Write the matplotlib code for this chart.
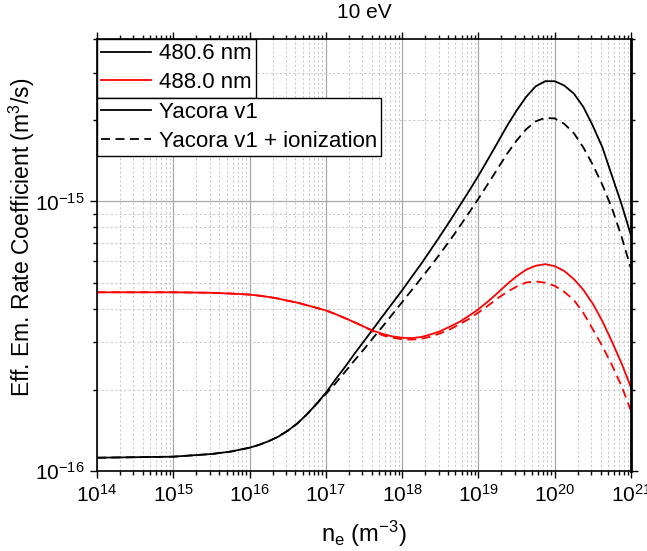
import matplotlib
matplotlib.use("Agg")
import matplotlib.pyplot as plt

plt.rcParams['font.family'] = ['Liberation Sans', 'DejaVu Sans']
plt.rcParams['mathtext.fontset'] = 'custom'
plt.rcParams['mathtext.rm'] = 'Liberation Sans'
plt.rcParams['mathtext.it'] = 'Liberation Sans:italic'
plt.rcParams['mathtext.bf'] = 'Liberation Sans:bold'

# electron density (m^-3)
ne = [1.0e14, 3.16e14, 1.0e15, 3.16e15, 5.62e15,
      1.0e16, 1.33e16, 1.78e16, 2.37e16, 3.16e16, 4.22e16, 5.62e16, 7.5e16,
      1.0e17, 1.33e17, 1.78e17, 2.37e17, 3.16e17, 4.22e17, 5.62e17, 7.5e17,
      1.0e18, 1.33e18, 1.78e18, 2.37e18, 3.16e18, 4.22e18, 5.62e18, 7.5e18,
      1.0e19, 1.33e19, 1.78e19, 2.37e19, 3.16e19, 4.22e19, 5.62e19, 7.5e19,
      1.0e20, 1.33e20, 1.78e20, 2.37e20, 3.16e20, 4.22e20, 5.62e20, 7.5e20,
      1.0e21]

# 480.6 nm, Yacora v1 (m^3/s)
k480 = [1.12e-16, 1.125e-16, 1.13e-16, 1.156e-16, 1.18e-16,
        1.22e-16, 1.25e-16, 1.29e-16, 1.34e-16, 1.41e-16, 1.50e-16, 1.62e-16, 1.77e-16,
        1.95e-16, 2.18e-16, 2.43e-16, 2.72e-16, 3.03e-16, 3.38e-16, 3.77e-16, 4.20e-16,
        4.68e-16, 5.24e-16, 5.87e-16, 6.61e-16, 7.46e-16, 8.45e-16, 9.59e-16, 1.09e-15,
        1.245e-15, 1.43e-15, 1.65e-15, 1.905e-15, 2.17e-15, 2.44e-15, 2.67e-15, 2.79e-15,
        2.79e-15, 2.69e-15, 2.51e-15, 2.24e-15, 1.905e-15, 1.585e-15, 1.245e-15, 9.77e-16,
        7.48e-16]
# 480.6 nm, Yacora v1 + ionization
k480_ion = [1.12e-16, 1.125e-16, 1.13e-16, 1.156e-16, 1.18e-16,
            1.22e-16, 1.25e-16, 1.29e-16, 1.34e-16, 1.41e-16, 1.50e-16, 1.62e-16, 1.77e-16,
            1.93e-16, 2.11e-16, 2.33e-16, 2.57e-16, 2.83e-16, 3.13e-16, 3.45e-16, 3.82e-16,
            4.23e-16, 4.68e-16, 5.19e-16, 5.75e-16, 6.41e-16, 7.16e-16, 8.04e-16, 9.06e-16,
            1.023e-15, 1.16e-15, 1.32e-15, 1.50e-15, 1.68e-15, 1.85e-15, 1.98e-15, 2.04e-15,
            2.03e-15, 1.94e-15, 1.79e-15, 1.585e-15, 1.365e-15, 1.15e-15, 9.44e-16, 7.41e-16,
            5.62e-16]
# 488.0 nm, Yacora v1
k488 = [4.60e-16, 4.60e-16, 4.60e-16, 4.58e-16, 4.55e-16,
        4.51e-16, 4.47e-16, 4.42e-16, 4.36e-16, 4.28e-16, 4.21e-16, 4.12e-16, 4.03e-16,
        3.94e-16, 3.82e-16, 3.69e-16, 3.56e-16, 3.43e-16, 3.31e-16, 3.22e-16, 3.155e-16,
        3.12e-16, 3.11e-16, 3.14e-16, 3.21e-16, 3.30e-16, 3.43e-16, 3.57e-16, 3.76e-16,
        3.98e-16, 4.25e-16, 4.57e-16, 4.93e-16, 5.27e-16, 5.58e-16, 5.77e-16, 5.85e-16,
        5.75e-16, 5.52e-16, 5.15e-16, 4.70e-16, 4.17e-16, 3.59e-16, 3.02e-16, 2.51e-16,
        2.04e-16]
# 488.0 nm, Yacora v1 + ionization
k488_ion = [4.60e-16, 4.60e-16, 4.60e-16, 4.58e-16, 4.55e-16,
            4.51e-16, 4.47e-16, 4.42e-16, 4.36e-16, 4.28e-16, 4.21e-16, 4.12e-16, 4.03e-16,
            3.94e-16, 3.82e-16, 3.69e-16, 3.56e-16, 3.43e-16, 3.29e-16, 3.18e-16, 3.12e-16,
            3.08e-16, 3.07e-16, 3.09e-16, 3.15e-16, 3.24e-16, 3.35e-16, 3.50e-16, 3.66e-16,
            3.87e-16, 4.10e-16, 4.37e-16, 4.61e-16, 4.83e-16, 5.00e-16, 5.05e-16, 4.99e-16,
            4.86e-16, 4.62e-16, 4.31e-16, 3.86e-16, 3.35e-16, 2.90e-16, 2.47e-16, 2.07e-16,
            1.67e-16]

fig = plt.figure(figsize=(6.47, 5.51), dpi=100)
ax = fig.add_subplot(111)
fig.subplots_adjust(left=0.1499, right=0.9753, bottom=0.1452, top=0.9292)

dash = (0, (5, 3))
l1, = ax.plot(ne, k480, color='black', lw=1.3)
l2, = ax.plot(ne, k488, color='red', lw=1.3)
l3, = ax.plot(ne, k480_ion, color='black', lw=1.3, linestyle=dash)
ax.plot(ne, k488_ion, color='red', lw=1.3, linestyle=dash)

ax.set_xscale('log')
ax.set_yscale('log')
ax.set_xlim(1e14, 1e21)
ax.set_ylim(1e-16, 4e-15)

ax.grid(which='major', color='#a8a8a8', lw=0.9, ls='-')
ax.grid(which='minor', color='#cccccc', lw=0.8, ls=(0, (2, 2)))
ax.set_axisbelow(True)

ax.tick_params(which='both', direction='out', top=True, right=True,
               labelsize=15, width=1, pad=4)
ax.tick_params(which='major', length=5)
ax.tick_params(which='minor', length=3)
ax.yaxis.set_minor_formatter(matplotlib.ticker.NullFormatter())
for s in ax.spines.values():
    s.set_linewidth(1.2)
ax.spines['right'].set_linewidth(2)

ax.set_title('10 eV', fontsize=15, pad=15)
ax.set_xlabel(r'n$_\mathregular{e}$ (m$^\mathregular{-3}$)', fontsize=17)
ax.set_ylabel(r'Eff. Em. Rate Coefficient (m$^\mathregular{3}$/s)', fontsize=16.5)
ax.xaxis.set_label_coords(0.5, -0.11)
ax.yaxis.set_label_coords(-0.112, 0.54)

leg_kw = dict(fontsize=16, fancybox=False, edgecolor='black', framealpha=1,
              borderaxespad=0, borderpad=0.2, labelspacing=0.35,
              handlelength=2.25, handletextpad=0.33)
leg1 = ax.legend([l1, l2], ['480.6 nm', '488.0 nm'], loc='upper left',
                 bbox_to_anchor=(0, 1), **leg_kw)
leg1.get_frame().set_linewidth(1)
ax.add_artist(leg1)

# second legend sits directly under the first one
fig.canvas.draw()
bb = leg1.get_window_extent().transformed(ax.transAxes.inverted())
leg2 = ax.legend([l1, l3], ['Yacora v1', 'Yacora v1 + ionization'], loc='upper left',
                 bbox_to_anchor=(0, bb.y0), **leg_kw)
leg2.get_frame().set_linewidth(1)

fig.savefig('out.png', dpi=100)
